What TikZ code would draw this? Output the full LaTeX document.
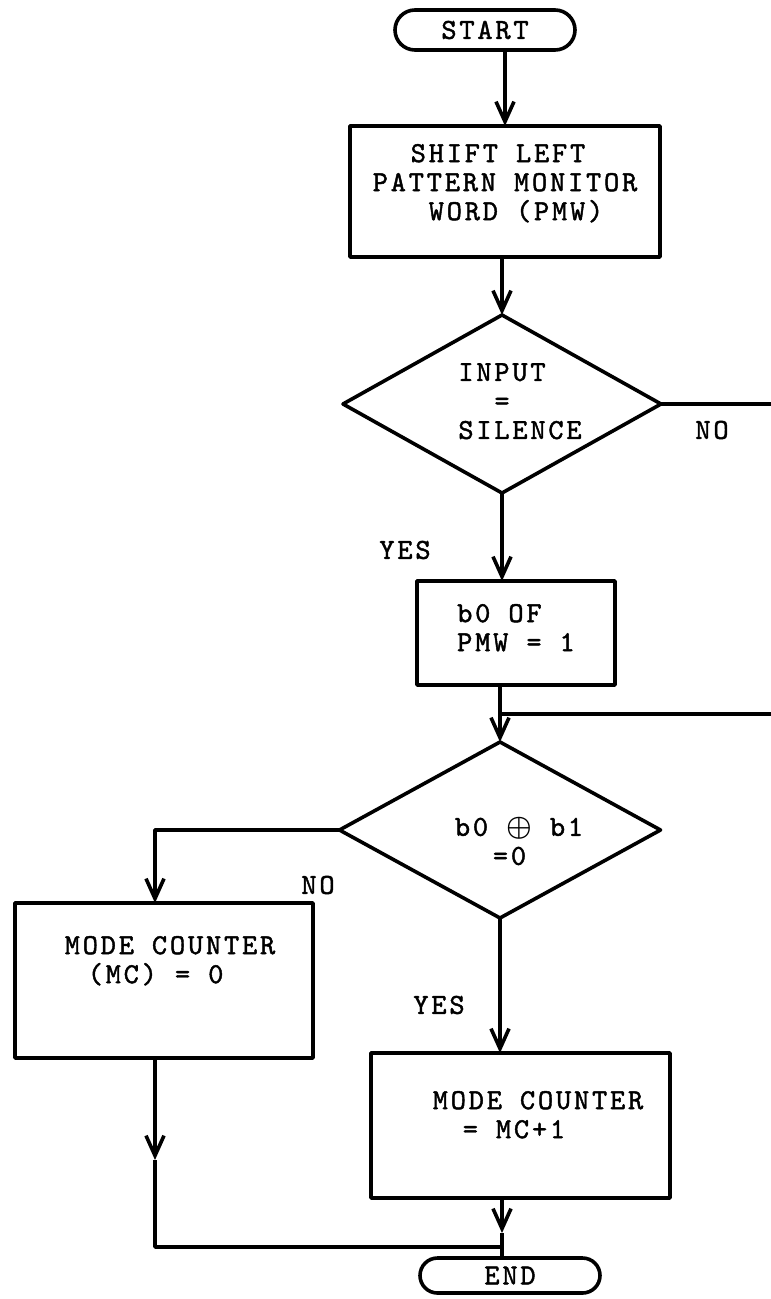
\documentclass[tikz,border=0pt]{standalone}
\usepackage{fontspec}
\usepackage{bm}
\newfontfamily\twr{lmmono10-regular.otf}[FakeBold=1.5,LetterSpace=9.6]
\newcommand\dpad[1]{\rule[-#1]{0pt}{0pt}}
\usetikzlibrary{shapes.geometric,shapes.misc,arrows.meta,calc}
\begin{document}
\begin{tikzpicture}[x=0.5pt,y=-0.5pt,line width=1.8pt,line join=round,
  every node/.style={inner sep=0pt,outer sep=0pt,font={\twr\fontsize{14.5}{14.5}\selectfont}},
  procbox/.style={draw,rectangle,align=left},
  decbox/.style={draw,diamond,aspect=1.8,align=left},
  termbox/.style={draw,rounded rectangle},
  arr/.style={-{Straight Barb[length=10pt,width=9pt]}}
]
\useasboundingbox (0,0) rectangle (770,1299);
% nodes
\node[termbox,minimum width=90pt,minimum height=20pt] (start) at (485,30) {START};
\node[procbox,minimum width=155pt,minimum height=65.5pt] (box1) at (505,191.5)
  {\hspace*{19pt}SHIFT LEFT\\PATTERN MONITOR\hspace*{8pt}\\\hspace*{28pt}WORD (PMW)\dpad{9.4pt}};
\node[decbox,minimum width=159pt,minimum height=89pt] (d1) at (502,404)
  {\hspace*{18pt}INPUT\\\hspace*{36pt}=\\\hspace*{18pt}SILENCE\dpad{2.9pt}};
\node (no1) at (712,430) {NO};
\node (yes1) at (405,550) {YES};
\node[procbox,minimum width=99pt,minimum height=52pt] (box2) at (516,633)
  {b0 OF\\PMW = 1\dpad{5.4pt}};
\node[decbox,minimum width=160.5pt,minimum height=88pt] (d2) at (500,830)
  {\rule{0pt}{20.5pt}\hspace*{19pt}b0 $\bm{\oplus}$ b1\\\hspace*{38pt}=0};
\node (no2) at (318,885) {NO};
\node[procbox,minimum width=149pt,minimum height=77.5pt] (box3) at (164,980.5)
  {\hspace*{6pt}MODE COUNTER\\\hspace*{17.5pt}(MC) = 0\dpad{20.9pt}};
\node (yes2) at (439,1005) {YES};
\node[procbox,minimum width=149.5pt,minimum height=72.5pt] (box4) at (520.5,1125.5)
  {\hspace*{17.5pt}MODE COUNTER\\\hspace*{32.5pt}= MC+1\dpad{10.9pt}};
\node[termbox,minimum width=90pt,minimum height=17.5pt] (end) at (510,1275.5) {END};
% coordinates
\coordinate (rout) at (772,404);
\coordinate (rback) at (772,714);
\coordinate (j1) at (500,714);
\coordinate (lc) at (155,830);
\coordinate (a3) at (155,1160);
\coordinate (jl) at (155,1247);
\coordinate (a4) at (502,1233);
\coordinate (j2) at (502,1247);
% connectors
\draw[arr] (start.south -| box1.north) -- (box1.north);
\draw[arr] (box1.south -| d1.north) -- (d1.north);
\draw (d1.east) -- (rout);
\draw[arr] (d1.south) -- (d1.south |- box2.north);
\draw[arr] (box2.south -| d2.north) -- (d2.north);
\draw (rback) -- (j1);
\draw[arr] (d2.west) -- (lc) -- (lc |- box3.north);
\draw[arr] (d2.south) -- (d2.south |- box4.north);
\draw[arr] (box3.south -| a3) -- (a3);
\draw (a3) -- (jl) -- (j2);
\draw[arr] (box4.south -| a4) -- (a4);
\draw (a4) -- (end.north -| a4);
\end{tikzpicture}
\end{document}
